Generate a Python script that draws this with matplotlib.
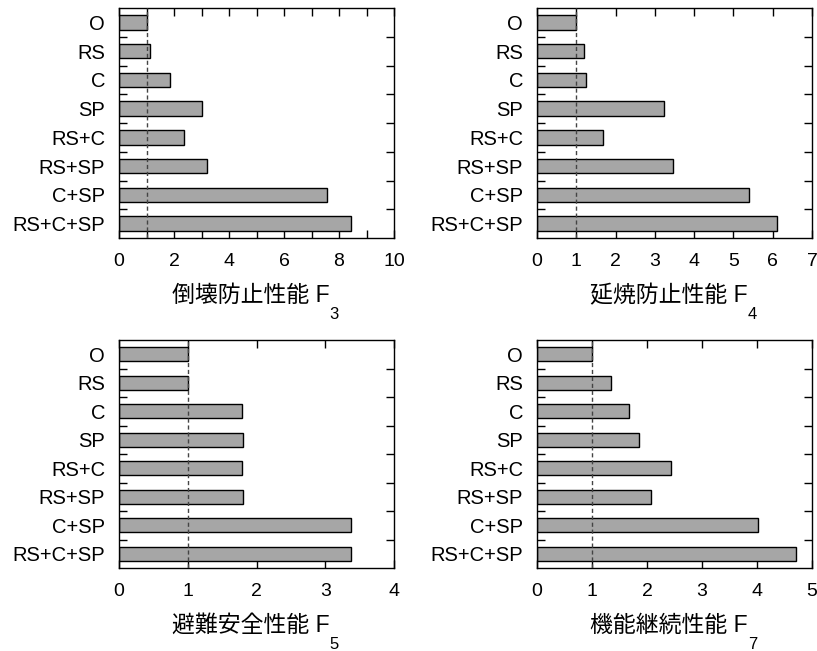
import matplotlib
matplotlib.use('Agg')
import matplotlib.pyplot as plt
from matplotlib.ticker import MultipleLocator

plt.rcParams['font.family'] = ['Liberation Sans', 'Noto Sans CJK JP']

categories = ['O', 'RS', 'C', 'SP', 'RS+C', 'RS+SP', 'C+SP', 'RS+C+SP']

f3 = [1.0, 1.14, 1.84, 3.02, 2.36, 3.19, 7.58, 8.43]
f4 = [1.0, 1.19, 1.24, 3.22, 1.67, 3.45, 5.40, 6.11]
f5 = [1.0, 1.0, 1.79, 1.81, 1.79, 1.81, 3.37, 3.37]
f7 = [1.0, 1.34, 1.68, 1.85, 2.43, 2.07, 4.01, 4.70]

labels = ['倒壊防止性能 F', '延焼防止性能 F', '避難安全性能 F', '機能継続性能 F']
subs = ['3', '4', '5', '7']
xmax = [10, 7, 4, 5]
xmajor = [2, 1, 1, 1]
series = [f3, f4, f5, f7]

W, H = 817, 651
fig = plt.figure(figsize=(W / 100, H / 100), dpi=100)

boxes = [(119, 8, 394, 238), (537, 8, 812, 238),
         (119, 340, 394, 568), (537, 340, 812, 568)]

for i, (x0, y0, x1, y1) in enumerate(boxes):
    ax = fig.add_axes([x0 / W, 1 - y1 / H, (x1 - x0) / W, (y1 - y0) / H])
    ypos = list(range(len(categories)))
    ax.barh(ypos, series[i], height=0.5, color='#a6a6a6',
            edgecolor='black', linewidth=1, zorder=2)
    ax.axvline(1, color='#444444', linewidth=1, linestyle=(0, (3, 2)), zorder=3)
    ax.set_xlim(0, xmax[i])
    ax.set_ylim(len(categories) - 0.5, -0.5)
    ax.set_yticks(ypos)
    ax.set_yticklabels(categories)
    ax.set_yticks([k + 0.5 for k in range(len(categories) - 1)], minor=True)
    ax.xaxis.set_major_locator(MultipleLocator(xmajor[i]))
    ax.xaxis.set_minor_locator(MultipleLocator(1))
    ax.tick_params(axis='y', which='major', length=0, pad=10, labelsize=14.5)
    ax.tick_params(axis='y', which='minor', direction='in', length=6,
                   width=1, left=True, right=True)
    ax.tick_params(axis='x', which='both', direction='in', length=5.5,
                   width=1, top=True, bottom=True)
    ax.tick_params(axis='x', which='major', pad=11, labelsize=14)
    for s in ax.spines.values():
        s.set_linewidth(1)
    lab = ax.set_xlabel(labels[i], fontsize=16.5, labelpad=10)
    lab.set_x(0.48)
    ax.annotate(subs[i], xy=(1, 0), xycoords=lab, xytext=(0, 0),
                textcoords='offset points', ha='left', va='top', fontsize=12)

fig.savefig('out.png', dpi=100)
